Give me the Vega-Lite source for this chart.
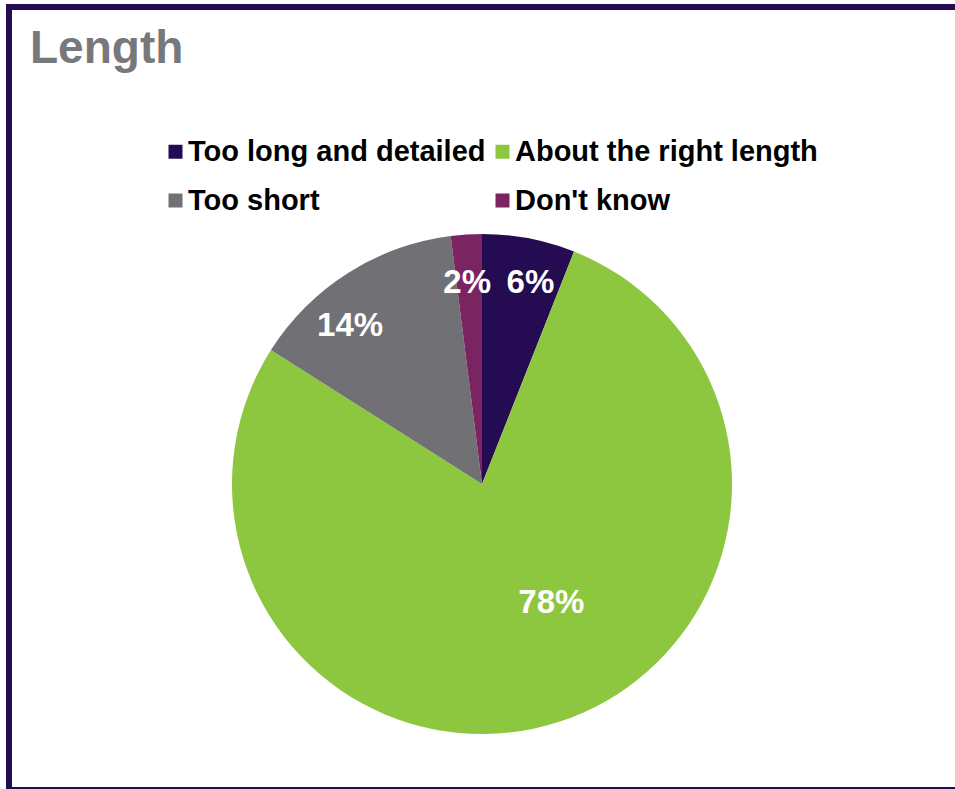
{
  "$schema": "https://vega.github.io/schema/vega-lite/v6.json",
  "width": 956,
  "height": 783,
  "autosize": "none",
  "padding": {"left": 9, "top": 7, "right": -10, "bottom": -1},
  "background": "white",
  "view": {"stroke": "#250B52", "strokeWidth": 6},
  "config": {
    "view": {"stroke": "#250B52", "strokeWidth": 6},
    "font": "Liberation Sans"
  },
  "title": {
    "text": "Length",
    "anchor": "start",
    "frame": "group",
    "orient": "top",
    "offset": -56,
    "dx": 21,
    "dy": 46,
    "baseline": "alphabetic",
    "fontSize": 46,
    "fontWeight": "bold",
    "color": "#77787B",
    "font": "Liberation Sans"
  },
  "data": {
    "values": [
      {"answer": "Too long and detailed", "pct": 0.06, "rank": 1},
      {"answer": "About the right length", "pct": 0.78, "rank": 2},
      {"answer": "Too short", "pct": 0.14, "rank": 3},
      {"answer": "Don't know", "pct": 0.02, "rank": 4}
    ]
  },
  "encoding": {
    "theta": {"field": "pct", "type": "quantitative", "stack": true},
    "order": {"field": "rank", "type": "quantitative"}
  },
  "layer": [
    {
      "mark": {"type": "arc", "radius": 250, "x": {"expr": "width/2-5"}, "y": {"expr": "height/2+85.5"}},
      "encoding": {
        "color": {
          "field": "answer",
          "type": "nominal",
          "scale": {
            "domain": ["Too long and detailed", "About the right length", "Too short", "Don't know"],
            "range": ["#250B52", "#8DC63F", "#717074", "#7B2462"]
          },
          "legend": {
            "orient": "none",
            "legendX": 152,
            "legendY": 130,
            "columns": 2,
            "direction": "horizontal",
            "title": null,
            "symbolType": "square",
            "symbolSize": 196,
            "symbolStrokeWidth": 0,
            "labelFontSize": 29,
            "labelFont": "Liberation Sans",
            "labelFontWeight": "bold",
            "labelColor": "black",
            "labelOffset": -2,
            "columnPadding": 2,
            "rowPadding": 19,
            "labelLimit": 600
          }
        }
      }
    },
    {
      "mark": {
        "type": "text",
        "x": {"expr": "width/2-5"},
        "y": {"expr": "height/2+85.5"},
        "radius": {"expr": "datum.pct > 0.5 ? 137 : 205"},
        "fontSize": 33,
        "fontWeight": "bold",
        "font": "Liberation Sans",
        "fill": "white",
        "align": "center",
        "baseline": "middle",
        "dx": {"expr": "datum.rank==1 ? 10 : datum.rank==2 ? 27 : datum.rank==3 ? -22 : -2"},
        "dy": {"expr": "datum.rank==2 ? -11 : datum.rank==3 ? 15 : datum.rank==4 ? 4 : 0"}
      },
      "encoding": {
        "text": {"field": "pct", "type": "quantitative", "format": ".0%"}
      }
    }
  ]
}
